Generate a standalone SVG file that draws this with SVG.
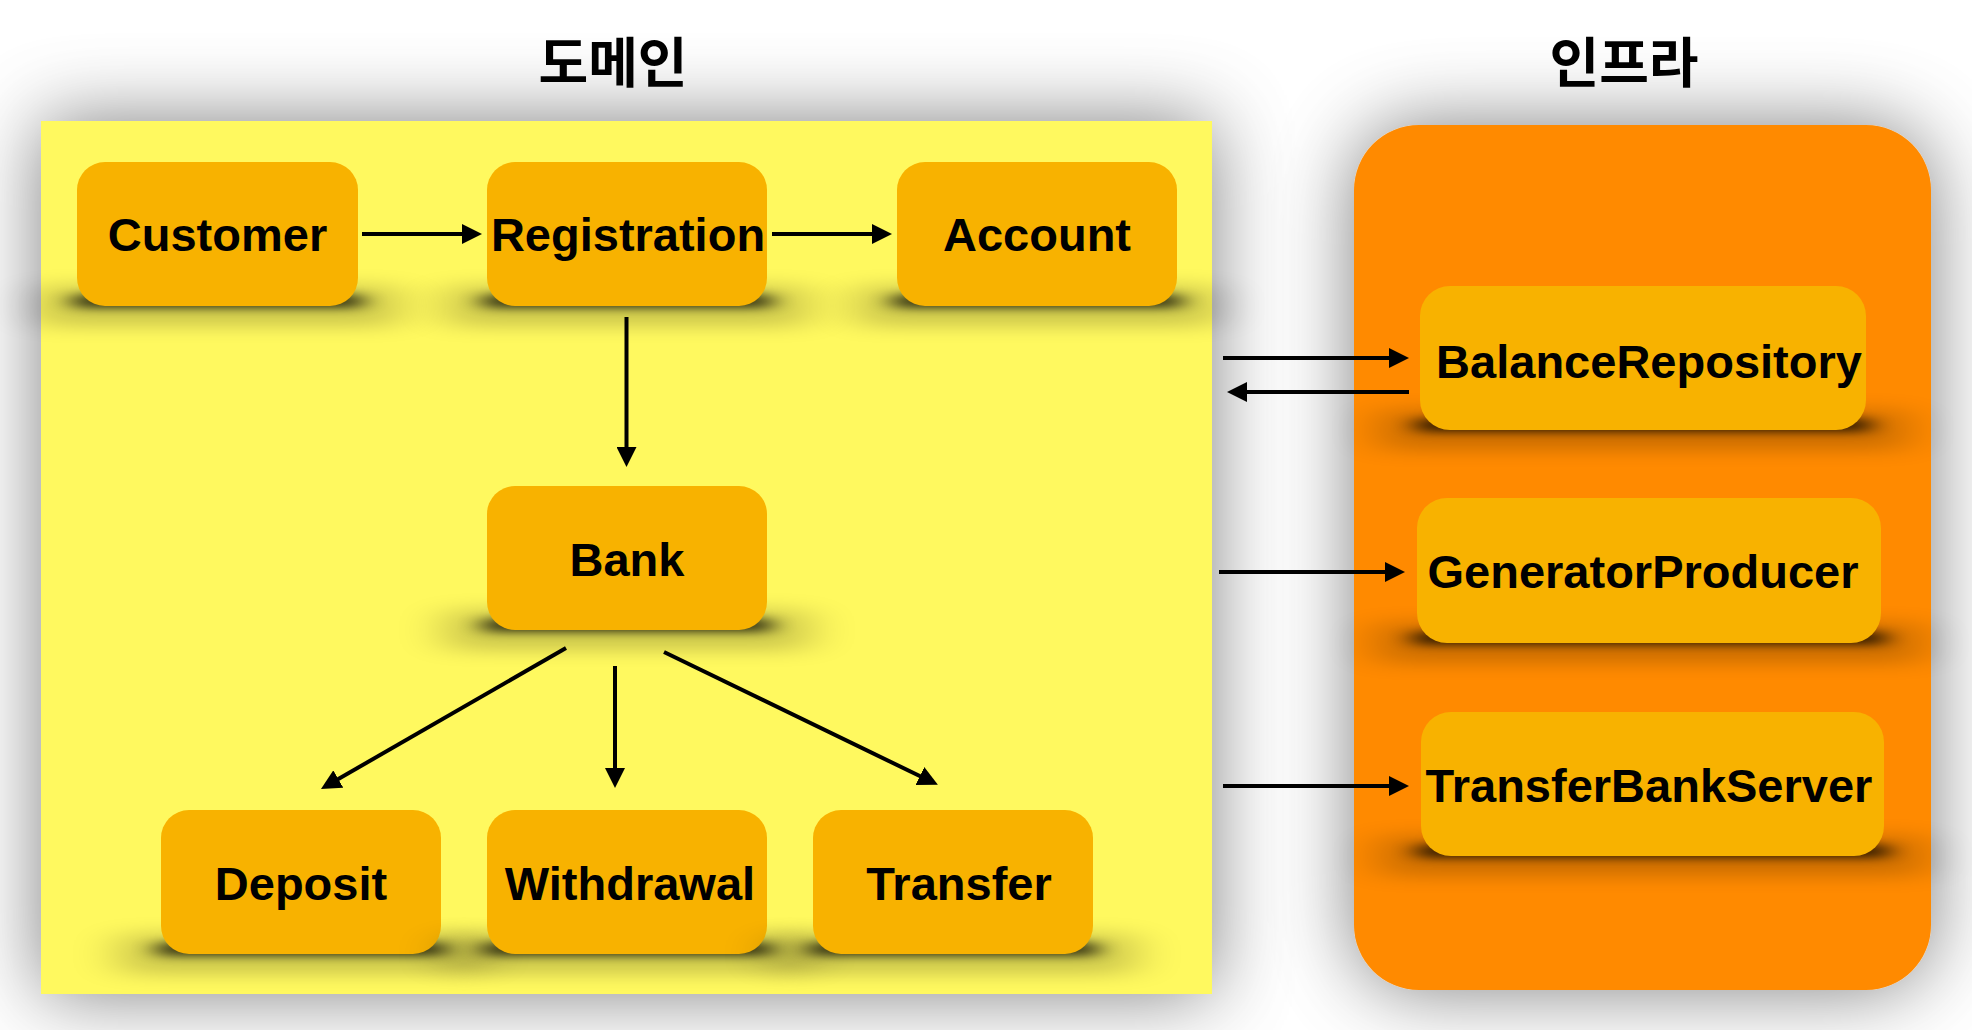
<svg xmlns="http://www.w3.org/2000/svg" width="1972" height="1030" viewBox="0 0 1972 1030">
<style>
.node{fill:#F8B200}
.lbl{font-family:"Liberation Sans",Arial,Helvetica,sans-serif;font-weight:bold;font-size:47px;fill:#000;text-anchor:middle}
.ttl{font-family:"Noto Sans CJK KR","Noto Sans",sans-serif;font-weight:bold;font-size:54px;fill:#000;text-anchor:middle}
.sh{fill:#000;opacity:0.7;filter:url(#blurS)}
.halo{fill:#000;opacity:0.2;filter:url(#blurH)}
.arr{stroke:#000;stroke-width:4;fill:none;marker-end:url(#ah)}
</style>
<defs>
<filter id="cont" x="-25%" y="-25%" width="150%" height="150%">
<feGaussianBlur in="SourceAlpha" stdDeviation="40" result="b"/>
<feFlood flood-color="#000" flood-opacity="0.5"/>
<feComposite in2="b" operator="in" result="s"/>
<feMerge><feMergeNode in="s"/><feMergeNode in="SourceGraphic"/></feMerge>
</filter>
<filter id="blurS" x="-20%" y="-200%" width="140%" height="500%"><feGaussianBlur stdDeviation="12 4"/></filter>
<filter id="blurH" x="-30%" y="-150%" width="160%" height="400%"><feGaussianBlur stdDeviation="25 9"/></filter>
<marker id="ah" markerUnits="userSpaceOnUse" markerWidth="20" markerHeight="20" refX="9" refY="10" orient="auto">
<path d="M0,0 L20,10 L0,20 Z" fill="#000"/>
</marker>
</defs>
<rect width="1972" height="1030" fill="#fff"/>
<g id="domain-container">
<rect x="41" y="121" width="1171" height="873" fill="#FFF95E" filter="url(#cont)"/>
<text class="ttl" x="613" y="83">도메인</text>
</g>
<g id="infra-container">
<rect x="1354" y="125" width="577" height="865" rx="65" ry="65" fill="#FF8A00" filter="url(#cont)"/>
<text class="ttl" x="1624" y="83">인프라</text>
</g>
<g id="node-customer">
<rect class="halo" x="37" y="286" width="361" height="40"/>
<rect class="sh" x="72" y="294" width="291" height="14" rx="7"/>
<rect class="node" x="77" y="162" width="281" height="144" rx="28"/>
<text class="lbl" x="217.5" y="251">Customer</text>
</g>
<g id="node-registration">
<rect class="halo" x="447" y="286" width="360" height="40"/>
<rect class="sh" x="482" y="294" width="290" height="14" rx="7"/>
<rect class="node" x="487" y="162" width="280" height="144" rx="28"/>
<text class="lbl" x="628" y="251">Registration</text>
</g>
<g id="node-account">
<rect class="halo" x="857" y="286" width="360" height="40"/>
<rect class="sh" x="892" y="294" width="290" height="14" rx="7"/>
<rect class="node" x="897" y="162" width="280" height="144" rx="28"/>
<text class="lbl" x="1037" y="251">Account</text>
</g>
<g id="node-bank">
<rect class="halo" x="447" y="610" width="360" height="40"/>
<rect class="sh" x="482" y="618" width="290" height="14" rx="7"/>
<rect class="node" x="487" y="486" width="280" height="144" rx="28"/>
<text class="lbl" x="627" y="576">Bank</text>
</g>
<g id="node-deposit">
<rect class="halo" x="121" y="934" width="360" height="40"/>
<rect class="sh" x="156" y="942" width="290" height="14" rx="7"/>
<rect class="node" x="161" y="810" width="280" height="144" rx="28"/>
<text class="lbl" x="301" y="900">Deposit</text>
</g>
<g id="node-withdrawal">
<rect class="halo" x="447" y="934" width="360" height="40"/>
<rect class="sh" x="482" y="942" width="290" height="14" rx="7"/>
<rect class="node" x="487" y="810" width="280" height="144" rx="28"/>
<text class="lbl" x="630" y="900">Withdrawal</text>
</g>
<g id="node-transfer">
<rect class="halo" x="773" y="934" width="360" height="40"/>
<rect class="sh" x="808" y="942" width="290" height="14" rx="7"/>
<rect class="node" x="813" y="810" width="280" height="144" rx="28"/>
<text class="lbl" x="959" y="900">Transfer</text>
</g>
<g id="node-balancerepository">
<rect class="halo" x="1380" y="410" width="526" height="40"/>
<rect class="sh" x="1415" y="418" width="456" height="14" rx="7"/>
<rect class="node" x="1420" y="286" width="446" height="144" rx="30"/>
<text class="lbl" x="1649" y="378">BalanceRepository</text>
</g>
<g id="node-generatorproducer">
<rect class="halo" x="1377" y="623" width="544" height="40"/>
<rect class="sh" x="1412" y="631" width="474" height="14" rx="7"/>
<rect class="node" x="1417" y="498" width="464" height="145" rx="30"/>
<text class="lbl" x="1643" y="588">GeneratorProducer</text>
</g>
<g id="node-transferbankserver">
<rect class="halo" x="1381" y="836" width="543" height="40"/>
<rect class="sh" x="1416" y="844" width="473" height="14" rx="7"/>
<rect class="node" x="1421" y="712" width="463" height="144" rx="30"/>
<text class="lbl" x="1649" y="802">TransferBankServer</text>
</g>
<g id="connectors">
<line class="arr" x1="362" y1="234" x2="471" y2="234"/>
<line class="arr" x1="772" y1="234" x2="881" y2="234"/>
<line class="arr" x1="626.5" y1="317" x2="626.5" y2="456"/>
<line class="arr" x1="566" y1="648" x2="330.5" y2="783.5"/>
<line class="arr" x1="615" y1="666" x2="615" y2="777"/>
<line class="arr" x1="664" y1="652" x2="928" y2="780"/>
<line class="arr" x1="1223" y1="358" x2="1398" y2="358"/>
<line class="arr" x1="1409" y1="392" x2="1238" y2="392"/>
<line class="arr" x1="1219" y1="572" x2="1394" y2="572"/>
<line class="arr" x1="1223" y1="786" x2="1398" y2="786"/>
</g>
</svg>
